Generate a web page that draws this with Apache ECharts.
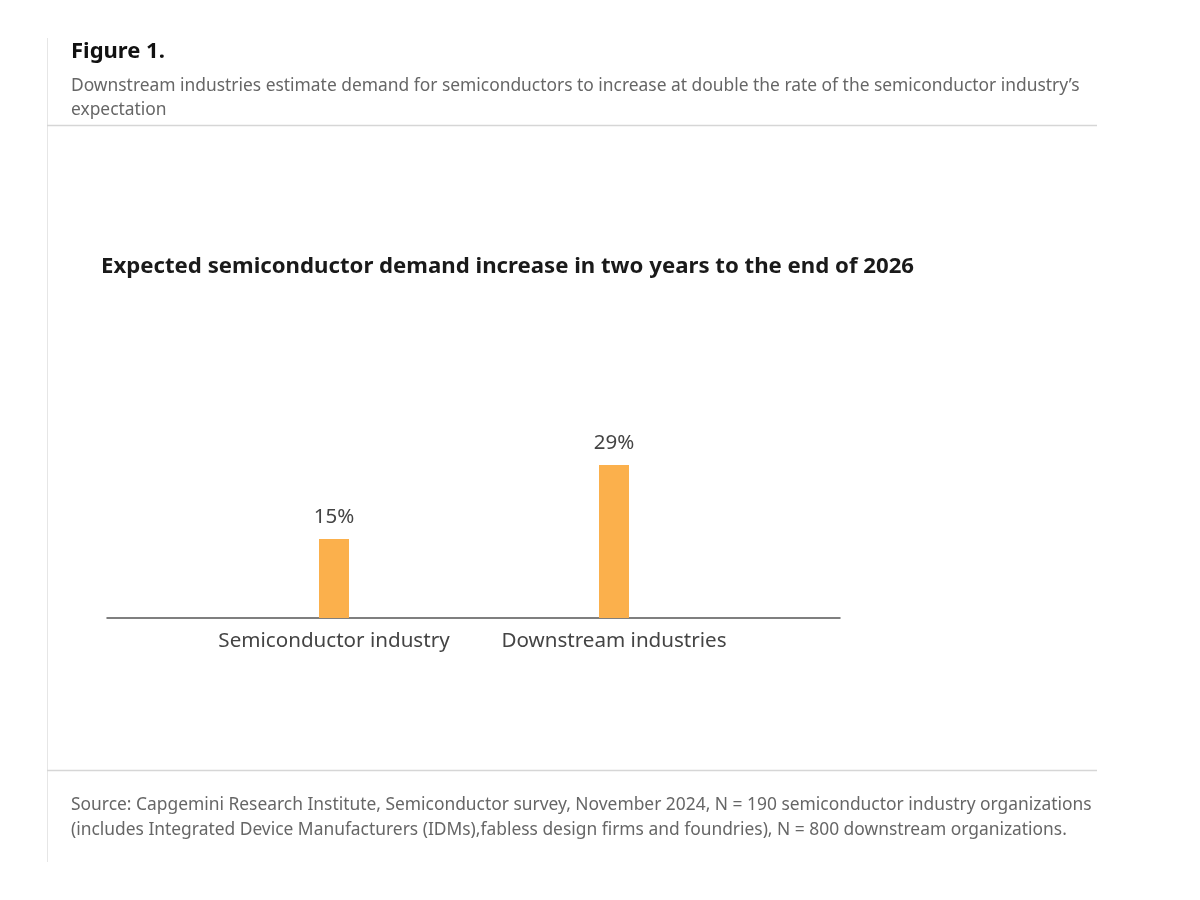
<!DOCTYPE html>
<html>
<head>
<meta charset="utf-8">
<script src="https://cdn.jsdelivr.net/npm/echarts@6/dist/echarts.min.js"></script>
<style>html,body{margin:0;padding:0;background:#fff}#c{width:1200px;height:900px}</style>
</head>
<body>
<div id="c"></div>
<script>
const categories = ['Semiconductor industry', 'Downstream industries'];
const values = [15, 29];
const figureLabel = 'Figure 1.';
const subtitle = 'Downstream industries estimate demand for semiconductors to increase at double the rate of the semiconductor industry\u2019s\nexpectation';
const chartTitle = 'Expected semiconductor demand increase in two years to the end of 2026';
const sourceText = 'Source: Capgemini Research Institute, Semiconductor survey, November 2024, N = 190 semiconductor industry organizations\n(includes Integrated Device Manufacturers (IDMs),fabless design firms and foundries), N = 800 downstream organizations.';

const FONT = 'Noto Sans';
const chart = echarts.init(document.getElementById('c'));
chart.setOption({
  backgroundColor: '#fff',
  animation: false,
  textStyle: { fontFamily: FONT },
  title: [
    { text: figureLabel, left: 71, top: 41, padding: 0, textStyle: { fontFamily: FONT, fontSize: 22, fontWeight: 'bold', color: '#111' } },
    { text: subtitle, left: 71, top: 74, padding: 0, textStyle: { fontFamily: FONT, fontSize: 17.4, fontWeight: 'normal', color: '#666', lineHeight: 24 } },
    { text: chartTitle, left: 101, top: 256, padding: 0, textStyle: { fontFamily: FONT, fontSize: 22.2, fontWeight: 'bold', color: '#1a1a1a' } },
    { text: sourceText, left: 71, top: 793, padding: 0, textStyle: { fontFamily: FONT, fontSize: 17.4, fontWeight: 'normal', color: '#666', lineHeight: 25 } }
  ],
  graphic: [
    { type: 'line', shape: { x1: 47.5, y1: 38, x2: 47.5, y2: 862 }, style: { stroke: '#e6e6e6', lineWidth: 1 } },
    { type: 'line', shape: { x1: 47, y1: 125.5, x2: 1097, y2: 125.5 }, style: { stroke: '#d6d6d6', lineWidth: 1.5 } },
    { type: 'line', shape: { x1: 47, y1: 770.5, x2: 1097, y2: 770.5 }, style: { stroke: '#d6d6d6', lineWidth: 1.5 } }
  ],
  grid: [
    { left: 194, right: 446, top: 407, bottom: 282, containLabel: false },
    { left: 107, right: 360, top: 407, bottom: 282, containLabel: false }
  ],
  xAxis: [
    {
      type: 'category', gridIndex: 0, data: categories,
      axisLine: { show: false }, axisTick: { show: false },
      axisLabel: { interval: 0, color: '#444', fontSize: 20.6, fontFamily: FONT, margin: 13 }
    },
    {
      type: 'category', gridIndex: 1, data: [],
      axisLine: { show: true, lineStyle: { color: '#555', width: 1.5 } },
      axisTick: { show: false }, axisLabel: { show: false }
    }
  ],
  yAxis: [
    { type: 'value', gridIndex: 0, min: 0, max: 40, show: false, splitLine: { show: false } },
    { type: 'value', gridIndex: 1, min: 0, max: 40, show: false, splitLine: { show: false } }
  ],
  series: [{
    type: 'bar',
    xAxisIndex: 0, yAxisIndex: 0,
    data: values,
    barWidth: 30,
    itemStyle: { color: '#FBB04C' },
    label: {
      show: true, position: 'top', distance: 11,
      formatter: p => p.value + '%',
      color: '#444', fontSize: 20.5, fontFamily: FONT
    }
  }]
});
</script>
</body>
</html>
